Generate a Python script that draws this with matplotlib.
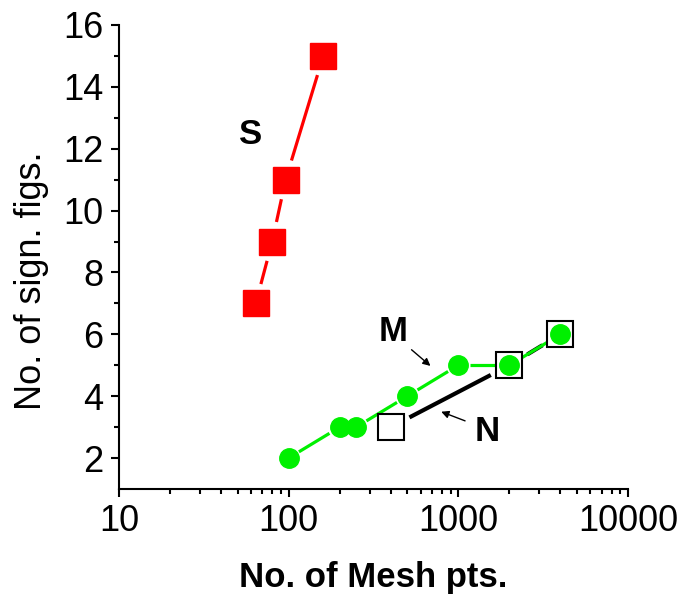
import numpy as np
import matplotlib
matplotlib.use('Agg')
import matplotlib.pyplot as plt
from matplotlib.ticker import FixedLocator, LogLocator, NullFormatter

plt.rcParams['font.family'] = ['Liberation Sans', 'DejaVu Sans']

# data
s_pts = [64, 80, 96, 160]
s_figs = [7, 9, 11, 15]

m_pts = [100, 200, 250, 500, 1000, 2000, 4000]
m_figs = [2, 3, 3, 4, 5, 5, 6]

n_pts = [400, 2000, 4000]
n_figs = [3, 5, 6]


def gapped_line(ax, xs, ys, gap, **kw):
    # Origin style: line segments stop short of the symbols
    pts = ax.transData.transform(np.column_stack([xs, ys]))
    inv = ax.transData.inverted()
    for p0, p1 in zip(pts[:-1], pts[1:]):
        d = p1 - p0
        ln = np.hypot(*d)
        if ln <= 2 * gap:
            continue
        u = d / ln
        a = inv.transform(p0 + u * gap)
        b = inv.transform(p1 - u * gap)
        ax.plot([a[0], b[0]], [a[1], b[1]], solid_capstyle='butt', **kw)


fig = plt.figure(figsize=(6.81, 5.98), dpi=100)
ax = fig.add_axes([0.1747, 0.1823, 0.7475, 0.7759])
ax.set_xscale('log')
ax.set_xlim(10, 10000)
ax.set_ylim(1, 16)

for sp in ['top', 'right']:
    ax.spines[sp].set_visible(False)
for sp in ['left', 'bottom']:
    ax.spines[sp].set_linewidth(1.5)

ax.yaxis.set_major_locator(FixedLocator([2, 4, 6, 8, 10, 12, 14, 16]))
ax.yaxis.set_minor_locator(FixedLocator([3, 5, 7, 9, 11, 13, 15]))
ax.xaxis.set_minor_locator(LogLocator(base=10, subs=np.arange(2, 10)))
ax.xaxis.set_minor_formatter(NullFormatter())
ax.set_xticks([10, 100, 1000, 10000])
ax.set_xticklabels(['10', '100', '1000', '10000'])
ax.tick_params(which='major', direction='out', length=6, width=1.5, labelsize=26, pad=5)
ax.tick_params(which='minor', direction='out', length=3.5, width=1.5)

fig.canvas.draw()

# lines with gaps
gapped_line(ax, s_pts, s_figs, 20, color='#ff0000', lw=2.3, zorder=2)
gapped_line(ax, n_pts, n_figs, 21, color='black', lw=3, zorder=2)
gapped_line(ax, m_pts, m_figs, 12, color='#00f000', lw=2.3, zorder=3)

ax.plot(s_pts, s_figs, 's', ms=19, color='#ff0000', mec='#ff0000', ls='none', zorder=4)
ax.plot(n_pts, n_figs, 's', ms=18.5, mfc='white', mec='black', mew=1.5, ls='none', zorder=4)
ax.plot(m_pts, m_figs, 'o', ms=14, color='#00f000', mec='#00f000', ls='none', zorder=5)

ax.text(60, 12.45, 'S', fontsize=25, fontweight='bold', ha='center', va='center')
ax.text(410, 6.08, 'M', fontsize=25, fontweight='bold', ha='center', va='center')
ax.text(1489, 2.85, 'N', fontsize=25, fontweight='bold', ha='center', va='center')

ax.annotate('', xy=(705, 4.92), xytext=(515, 5.56),
            arrowprops=dict(arrowstyle='-|>', color='black', lw=1, mutation_scale=11))
ax.annotate('', xy=(765, 3.53), xytext=(1135, 3.17),
            arrowprops=dict(arrowstyle='-|>', color='black', lw=1, mutation_scale=11))

ax.set_ylabel('No. of sign. figs.', fontsize=26)
ax.set_xlabel('No. of Mesh pts.', fontsize=25, fontweight='bold')
ax.yaxis.set_label_coords(-0.138, 0.448)
ax.xaxis.set_label_coords(0.5, -0.155)

fig.savefig('out.png', dpi=100)
